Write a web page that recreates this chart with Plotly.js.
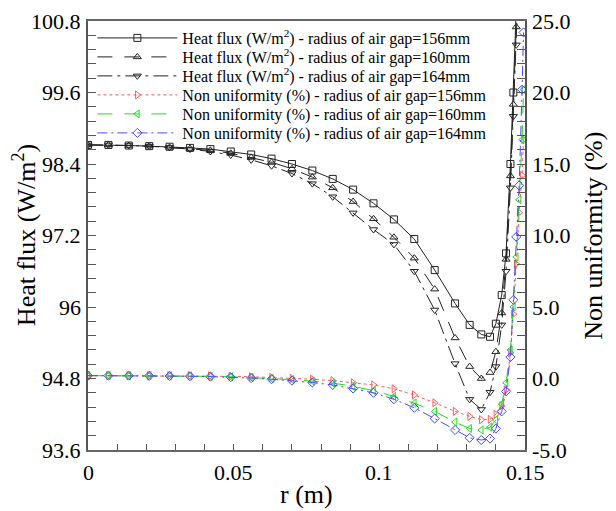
<!DOCTYPE html>
<html>
<head>
<meta charset="utf-8">
<script src="https://cdn.plot.ly/plotly-3.0.1.min.js"></script>
<style>
  html, body { margin: 0; padding: 0; background: #fff; }
  #chart { width: 616px; height: 511px; }
  .modebar-container { display: none !important; }
</style>
</head>
<body>
<div id="chart"></div>
<script>
// Radial position of the sampled nodes (m)
const r = [0, 0.007, 0.014, 0.021, 0.028, 0.035, 0.042, 0.049, 0.056, 0.063,
           0.07, 0.077, 0.084, 0.091, 0.098, 0.105, 0.112, 0.119, 0.126, 0.131,
           0.135, 0.138, 0.14, 0.142, 0.1435, 0.145, 0.146, 0.147, 0.148, 0.149, 0.1495];

// Heat flux (W/m2) for each air-gap radius
const heatFlux156 = [98.72, 98.72, 98.71, 98.70, 98.69, 98.67, 98.65, 98.61, 98.56, 98.49,
                     98.40, 98.29, 98.15, 97.97, 97.74, 97.47, 97.14, 96.62, 96.06, 95.70,
                     95.54, 95.50, 95.72, 96.20, 96.90, 98.40, 99.60, 101.0, null, null, null];
const heatFlux160 = [98.72, 98.72, 98.71, 98.70, 98.68, 98.66, 98.63, 98.58, 98.51, 98.43,
                     98.32, 98.18, 98.00, 97.77, 97.48, 97.17, 96.82, 96.30, 95.48, 95.00,
                     94.80, 94.90, 95.25, 95.90, 96.80, 98.20, 99.40, 100.7, 102.0, null, null];
const heatFlux164 = [98.72, 98.72, 98.71, 98.70, 98.68, 98.65, 98.61, 98.55, 98.47, 98.37,
                     98.24, 98.07, 97.85, 97.58, 97.30, 97.05, 96.60, 95.95, 95.05, 94.45,
                     94.28, 94.57, 95.00, 95.70, 96.60, 98.00, 99.20, 100.4, 101.8, null, null];

// Non uniformity (%) for each air-gap radius
const nonUni156 = [0.2, 0.2, 0.2, 0.2, 0.2, 0.2, 0.18, 0.15, 0.12, 0.08,
                   0.02, -0.05, -0.15, -0.3, -0.45, -0.72, -1.15, -1.7, -2.3, -2.65,
                   -2.88, -2.85, -2.5, -1.9, -0.8, 1.8, 4.5, 8.0, 11.6, 14.2, 16.7];
const nonUni160 = [0.2, 0.2, 0.2, 0.2, 0.19, 0.17, 0.15, 0.12, 0.07, 0.0,
                   -0.08, -0.18, -0.32, -0.55, -0.85, -1.25, -1.72, -2.3, -3.05, -3.5,
                   -3.6, -3.4, -2.9, -1.8, -0.3, 2.0, 5.0, 8.5, 12.5, 16.7, 20.2];
const nonUni164 = [0.2, 0.2, 0.2, 0.19, 0.18, 0.16, 0.13, 0.09, 0.03, -0.05,
                   -0.15, -0.28, -0.45, -0.7, -1.0, -1.45, -2.05, -2.8, -3.6, -4.15,
                   -4.3, -4.2, -3.5, -2.3, -0.9, 1.5, 5.5, 9.9, 13.5, 20.2, 24.2];

// Major tick labels of the three axes
const xMajor  = [0, 0.05, 0.1, 0.15];
const xLabels = ['0', '0.05', '0.1', '0.15'];
const yMajor  = [93.6, 94.8, 96, 97.2, 98.4, 99.6, 100.8];
const yLabels = ['93.6', '94.8', '96', '97.2', '98.4', '99.6', '100.8'];
const y2Major  = [-5, 0, 5, 10, 15, 20, 25];
const y2Labels = ['-5.0', '0.0', '5.0', '10.0', '15.0', '20.0', '25.0'];

// Axis titles
const xTitle = 'r (m)';
const yTitle = 'Heat flux (W/m<sup>2</sup>)';
const y2Title = 'Non uniformity (%)';

const names = [
  'Heat flux (W/m<sup>2</sup>) - radius of air gap=156mm',
  'Heat flux (W/m<sup>2</sup>) - radius of air gap=160mm',
  'Heat flux (W/m<sup>2</sup>) - radius of air gap=164mm',
  'Non uniformity (%) - radius of air gap=156mm',
  'Non uniformity (%) - radius of air gap=160mm',
  'Non uniformity (%) - radius of air gap=164mm'
];

{
  const face = 'Liberation Serif';

  // Tick positions: five subdivisions between consecutive majors
  const subdivide = (major, parts) => {
    const vals = [];
    for (let i = 0; i < major.length; i++) {
      vals.push(major[i]);
      if (i < major.length - 1) {
        const step = (major[i + 1] - major[i]) / parts;
        for (let k = 1; k < parts; k++) vals.push(major[i] + k * step);
      }
    }
    return vals;
  };

  const makeSeries = (y, name, yaxis, color, dash, symbol) => ({
    x: r, y: y, name: name, yaxis: yaxis,
    type: 'scatter', mode: 'lines+markers', connectgaps: false,
    line: { color: color, width: 1, dash: dash },
    marker: { symbol: symbol, size: 7, color: color, line: { color: color, width: 1 } }
  });

  const traces = [
    makeSeries(heatFlux156, names[0], 'y',  '#222222', 'solid',    'square-open'),
    makeSeries(heatFlux160, names[1], 'y',  '#222222', '15px,12px', 'triangle-up-open'),
    makeSeries(heatFlux164, names[2], 'y',  '#222222', '15px,5px,3px,5px', 'triangle-down-open'),
    makeSeries(nonUni156,   names[3], 'y2', '#ff5a5a', 'dot',      'triangle-right-open'),
    makeSeries(nonUni160,   names[4], 'y2', '#22dd22', '15px,12px', 'triangle-left-open'),
    makeSeries(nonUni164,   names[5], 'y2', '#4a4aff', '10px,4px,2px,4px', 'diamond-open')
  ];

  // Tick labels and axis titles placed on the axes' own scales
  const tickFont = { family: face, size: 22, color: '#000' };
  const titleFont = { family: face, size: 26, color: '#000' };
  const annotations = [];
  xMajor.forEach((v, i) => annotations.push({
    x: v, xref: 'x', y: -0.052, yref: 'paper', xanchor: 'center', yanchor: 'middle',
    text: xLabels[i], showarrow: false, font: tickFont
  }));
  yMajor.forEach((v, i) => annotations.push({
    x: 0, xref: 'paper', xshift: -5, y: v, yref: 'y', xanchor: 'right', yanchor: 'middle',
    text: yLabels[i], showarrow: false, font: tickFont
  }));
  y2Major.forEach((v, i) => annotations.push({
    x: 1, xref: 'paper', xshift: 5, y: v, yref: 'y2', xanchor: 'left', yanchor: 'middle',
    text: y2Labels[i], showarrow: false, font: tickFont
  }));
  annotations.push({ x: 0.5, xref: 'paper', y: -0.103, yref: 'paper', xanchor: 'center', yanchor: 'middle',
                     text: xTitle, showarrow: false, font: titleFont });
  annotations.push({ x: -0.145, xref: 'paper', y: 0.5, yref: 'paper', xanchor: 'center', yanchor: 'middle',
                     textangle: -90, text: yTitle, showarrow: false, font: titleFont });
  annotations.push({ x: 1.156, xref: 'paper', y: 0.5, yref: 'paper', xanchor: 'center', yanchor: 'middle',
                     textangle: -90, text: y2Title, showarrow: false, font: titleFont });

  const layout = {
    width: 616, height: 511,
    margin: { l: 88, r: 91, t: 21, b: 61 },
    font: { family: face, size: 22 },
    showlegend: true,
    legend: {
      x: 0.01, y: 1.0, xanchor: 'left', yanchor: 'top',
      bgcolor: 'rgba(255,255,255,0)', borderwidth: 0,
      font: { family: face, size: 16, color: '#000' },
      itemwidth: 80, tracegroupgap: 0
    },
    annotations: annotations,
    xaxis: {
      range: [0, 0.15], tickmode: 'array', tickvals: subdivide(xMajor, 5), showticklabels: false,
      ticks: 'inside', ticklen: 6, tickcolor: '#555',
      showline: true, linecolor: '#666', linewidth: 1.5, mirror: true,
      showgrid: false, zeroline: false
    },
    yaxis: {
      range: [93.6, 100.8], tickmode: 'array', tickvals: subdivide(yMajor, 5), showticklabels: false,
      ticks: 'inside', ticklen: 8, tickcolor: '#555',
      showline: true, linecolor: '#555', linewidth: 1.5,
      showgrid: false, zeroline: false
    },
    yaxis2: {
      overlaying: 'y', side: 'right', anchor: 'x',
      range: [-5, 25], tickmode: 'array', tickvals: subdivide(y2Major, 5), showticklabels: false,
      ticks: 'inside', ticklen: 8, tickcolor: '#555',
      showline: true, linecolor: '#555', linewidth: 1.5,
      showgrid: false, zeroline: false
    }
  };

  // Legend rows 19 px apart
  const tightenLegend = gd => {
    const items = gd.querySelectorAll('.legend .traces');
    const re = /translate\(([-\d.]+)[ ,]+([-\d.]+)\)/;
    const first = re.exec(items[0].getAttribute('transform') || '');
    const y0 = first ? parseFloat(first[2]) : 0;
    items.forEach((el, i) => {
      const m = re.exec(el.getAttribute('transform') || '');
      const x0 = m ? parseFloat(m[1]) : 0;
      el.setAttribute('transform', 'translate(' + x0 + ',' + (y0 + i * 19) + ')');
    });
  };

  Plotly.newPlot('chart', traces, layout).then(tightenLegend);
}
</script>
</body>
</html>
